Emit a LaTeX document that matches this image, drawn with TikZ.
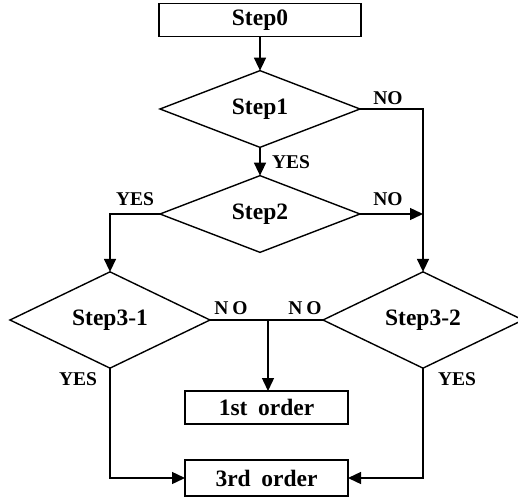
\documentclass[tikz,border=0pt]{standalone}
\usepackage{fontspec}
\setmainfont{Liberation Serif}
\usetikzlibrary{shapes.geometric,arrows.meta}
\begin{document}
\begin{tikzpicture}[x=1pt,y=-1pt,
  line width=1.4pt,
  box/.style={draw,rectangle,inner sep=0pt,outer sep=0pt,minimum height=33pt,font=\fontsize{23.5}{24}\selectfont\bfseries},
  dia/.style={draw,diamond,inner sep=0pt,outer sep=0pt,minimum width=200pt,minimum height=71pt,font=\fontsize{23.5}{24}\selectfont\bfseries},
  lab/.style={font=\fontsize{19.5}{20}\selectfont\bfseries,inner sep=0pt},
  arr/.style={-{Triangle[length=13pt,width=12pt]}}]
\useasboundingbox (0,0) rectangle (518,502);
\node[box,minimum width=202pt] (s0) at (260,20) {Step0};
\node[dia] (s1) at (260,109) {Step1};
\node[dia] (s2) at (260,214) {Step2};
\node[dia] (s31) at (110,320) {Step3-1};
\node[dia] (s32) at (423,320) {Step3-2};
\node[box,minimum width=163pt] (o1) at (266.5,407.5) {1st\hspace{0.45em}order};
\node[box,minimum width=163pt,minimum height=36pt] (o3) at (266.5,478) {3rd\hspace{0.45em}order};
\coordinate (c1) at (423,109);
\coordinate (c2) at (423,214);
\coordinate (c3) at (110,214);
\coordinate (j) at (268,320);
\draw[arr] (s0.south) -- (s1.north);
\draw[arr] (s1.east) -- (c1) -- (s32.north);
\draw[arr] (s1.south) -- (s2.north);
\draw[arr] (s2.east) -- (c2);
\draw[arr] (s2.west) -- (c3) -- (s31.north);
\draw (s31.east) -- (s32.west);
\draw[arr] (j) -- (j |- o1.north);
\draw[arr] (s31.south) |- (o3.west);
\draw[arr] (s32.south) |- (o3.east);
\node[lab] (l1) at (388,98) {NO};
\node[lab] (l2) at (291,162) {YES};
\node[lab] (l3) at (135,199) {YES};
\node[lab] (l4) at (388,199) {NO};
\node[lab] (l5) at (231,308) {N\hspace{0.2em}O};
\node[lab] (l6) at (305,308) {N\hspace{0.2em}O};
\node[lab] (l7) at (78,379) {YES};
\node[lab] (l8) at (457,379) {YES};
\end{tikzpicture}
\end{document}
